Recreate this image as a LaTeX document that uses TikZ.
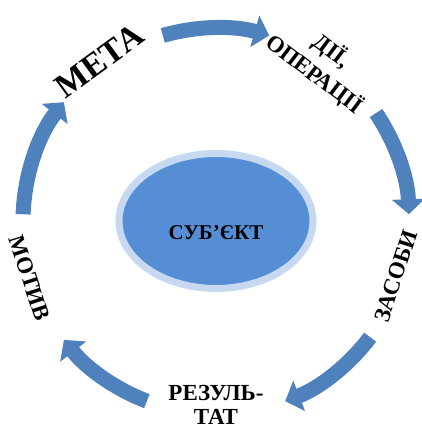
\documentclass[tikz,border=0pt]{standalone}
\usepackage{fontspec}
\setmainfont{Liberation Serif}
\usetikzlibrary{arrows.meta,shapes.geometric}
\definecolor{arrowblue}{HTML}{4F81BD}
\definecolor{coreblue}{HTML}{558ED5}
\definecolor{haloblue}{HTML}{C6D9F1}
\tikzset{
  lbl/.style={font=\bfseries\fontsize{23}{24}\selectfont, align=center, inner sep=0pt},
  biglbl/.style={lbl, font=\bfseries\fontsize{34}{36}\selectfont},
  cyc/.style={draw=arrowblue, line width=15pt, -{Triangle[width=32pt,length=15pt]}},
  core/.style={ellipse, fill=coreblue, draw=haloblue, line width=7pt,
    minimum width=194pt, minimum height=135pt, inner sep=0pt},
}
\begin{document}
\begin{tikzpicture}[x=1pt,y=1pt]
  \useasboundingbox (-216,-210) rectangle (205,221);
  % centre
  \node[core] (subj) at (0,0) {};
  \node[lbl, font=\bfseries\fontsize{21}{23}\selectfont] (subjtxt) at ([yshift=-12pt]subj.center) {СУБ’ЄКТ};
  % labels round the cycle
  \draw
    (126:198) node[biglbl, rotate=36] (meta) {МЕТА}
    (56:191) node[lbl, rotate=-37, font=\bfseries\fontsize{23}{29}\selectfont] (dii) {ДІЇ,\\ОПЕРАЦІЇ}
    (-17:188) node[lbl, rotate=72] (zasoby) {ЗАСОБИ}
    (-90:184) node[lbl] (rezult) {РЕЗУЛЬ-\\ТАТ}
    (197:195) node[lbl, rotate=-72] (motyv) {МОТИВ};
  % arrows
  \coordinate (a1) at (106:193);
  \coordinate (a2) at (34:193);
  \coordinate (a3) at (-37:193);
  \coordinate (a4) at (-111:193);
  \coordinate (a5) at (178:193);
  \draw[cyc] (a1) arc[start angle=106, end angle=74, radius=193pt];
  \draw[cyc] (a2) arc[start angle=34, end angle=2, radius=193pt];
  \draw[cyc] (a3) arc[start angle=-37, end angle=-69, radius=193pt];
  \draw[cyc] (a4) arc[start angle=-111, end angle=-142, radius=193pt];
  \draw[cyc] (a5) arc[start angle=178, end angle=142, radius=193pt];
\end{tikzpicture}
\end{document}
